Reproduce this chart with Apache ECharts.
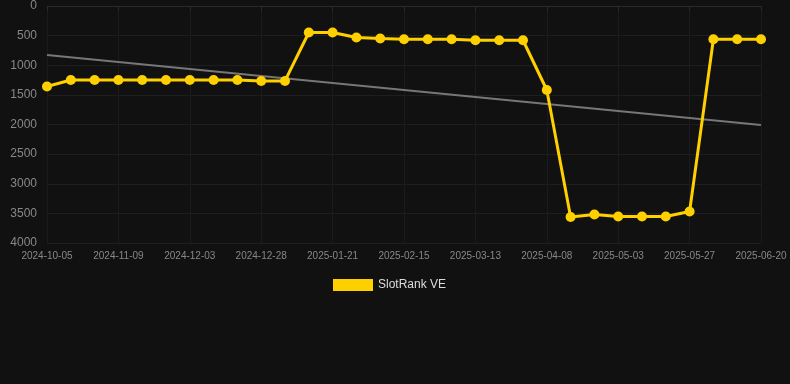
<!DOCTYPE html>
<html><head><meta charset="utf-8">
<script src="https://cdn.jsdelivr.net/npm/echarts@6/dist/echarts.min.js"></script>
<style>html,body{margin:0;padding:0;background:#111111;}#c{width:790px;height:384px;}</style>
</head><body><div id="c"></div>
<script>
var categories = ["2024-10-05","2024-10-17","2024-10-28","2024-11-09","2024-11-17","2024-11-25","2024-12-03","2024-12-11","2024-12-19","2024-12-28","2025-01-05","2025-01-13","2025-01-21","2025-01-29","2025-02-06","2025-02-15","2025-02-23","2025-03-04","2025-03-13","2025-03-22","2025-03-30","2025-04-08","2025-04-16","2025-04-24","2025-05-03","2025-05-11","2025-05-19","2025-05-27","2025-06-04","2025-06-12","2025-06-20"];
var rankValues = [1358,1250,1250,1250,1250,1250,1250,1250,1250,1265,1265,447,447,532,548,562,562,562,578,578,578,1418,3561,3519,3553,3553,3553,3468,562,562,562];
var trendValues = [827,null,null,null,null,null,null,null,null,null,null,null,null,null,null,null,null,null,null,null,null,null,null,null,null,null,null,null,null,null,2008];
var yTicks = [0,500,1000,1500,2000,2500,3000,3500,4000];

var chart = echarts.init(document.getElementById('c'));
chart.setOption({
  backgroundColor: '#111111',
  animation: false,
  grid: {left: 47, right: 29, top: 6, bottom: 141},
  legend: {
    data: ['SlotRank VE'], top: 274, left: 328,
    itemWidth: 40, itemHeight: 12, icon: 'rect', itemGap: 6,
    textStyle: {color: '#dddddd', fontSize: 12, fontFamily: 'Liberation Sans, Arial, sans-serif'}
  },
  xAxis: {
    type: 'category', data: categories, boundaryGap: false,
    axisLine: {lineStyle: {color: '#2a2a2a'}},
    axisTick: {show: true, interval: 2, length: 5, lineStyle: {color: '#2a2a2a'}},
    axisLabel: {interval: 2, color: '#888888', fontSize: 10, margin: 8, fontFamily: 'Liberation Sans, Arial, sans-serif'},
    splitLine: {show: true, interval: 2, lineStyle: {color: '#1b1b1b'}}
  },
  yAxis: {
    type: 'value', inverse: true, min: yTicks[0], max: yTicks[yTicks.length-1], interval: 500,
    axisLine: {show: false}, axisTick: {show: false},
    axisLabel: {color: '#888888', fontSize: 12, margin: 10, fontFamily: 'Liberation Sans, Arial, sans-serif',
      formatter: function (v) { return String(v); }},
    splitLine: {lineStyle: {color: '#1e1e1e'}}
  },
  series: [
    {
      name: 'Trend', type: 'line', data: trendValues, connectNulls: true,
      symbol: 'none', lineStyle: {color: '#777777', width: 2}, z: 1, silent: true
    },
    {
      name: 'SlotRank VE', type: 'line', data: rankValues,
      symbol: 'circle', symbolSize: 10,
      itemStyle: {color: '#FFD000'},
      lineStyle: {color: '#FFD000', width: 3}, z: 2
    }
  ]
});
</script></body></html>
